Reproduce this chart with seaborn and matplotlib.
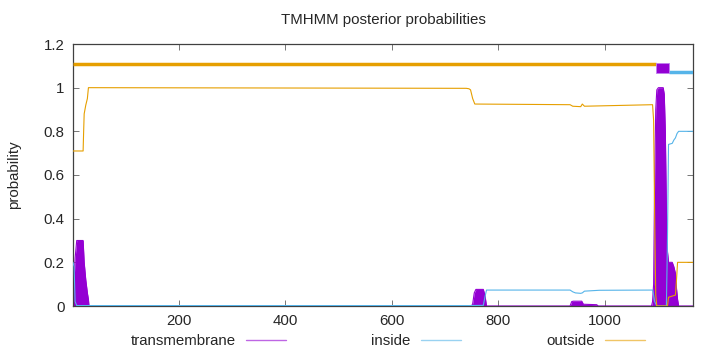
import numpy as np
import pandas as pd
import matplotlib
matplotlib.use("Agg")
import matplotlib.pyplot as plt
from matplotlib.lines import Line2D
from matplotlib.patches import Rectangle
import seaborn as sns

# ---- data ----
seq_len = 1166

tm_pos = [1, 3, 5, 8, 20, 22, 25, 28, 30, 31, 750, 752, 755, 758, 772, 775, 778,
          935, 938, 941, 957, 960, 985, 988, 1088, 1090, 1092, 1094, 1096, 1098,
          1101, 1110, 1112, 1114, 1116, 1118, 1120, 1127, 1130, 1133, 1135, 1137, 1139, 1166]
tm_prob = [0.11, 0.11, 0.22, 0.30, 0.30, 0.20, 0.12, 0.06, 0.03, 0.0, 0.0, 0.01, 0.06, 0.076, 0.076, 0.05, 0.0,
           0.0, 0.02, 0.022, 0.022, 0.008, 0.006, 0.0, 0.0, 0.02, 0.10, 0.60, 0.90, 0.99,
           1.0, 1.0, 0.97, 0.80, 0.45, 0.25, 0.20, 0.20, 0.18, 0.15, 0.08, 0.03, 0.0, 0.0]

inside_pos = [1, 3, 5, 8, 745, 772, 775, 778, 935, 940, 945, 955, 958, 962, 990, 1090,
              1092, 1094, 1098, 1116, 1118, 1120, 1127, 1130, 1133, 1136, 1139, 1166]
inside_prob = [0.20, 0.18, 0.02, 0.002, 0.002, 0.003, 0.04, 0.073, 0.073, 0.065, 0.06, 0.058, 0.06, 0.068, 0.072, 0.073,
               0.05, 0.02, 0.0, 0.0, 0.30, 0.74, 0.745, 0.76, 0.77, 0.79, 0.80, 0.80]

outside_pos = [1, 20, 21, 22, 25, 28, 30, 740, 745, 748, 752, 756, 935, 940, 955, 958, 962,
               1090, 1092, 1094, 1096, 1098, 1118, 1120, 1133, 1135, 1137, 1166]
outside_prob = [0.71, 0.71, 0.80, 0.88, 0.92, 0.95, 1.0, 0.997, 0.995, 0.99, 0.95, 0.925, 0.922, 0.915, 0.913, 0.925, 0.915,
                0.922, 0.85, 0.40, 0.05, 0.0, 0.0, 0.04, 0.05, 0.12, 0.20, 0.20]

# predicted topology segments (start, end)
seg_outside = [(1, 1097)]
seg_tm = [(1097, 1121)]
seg_inside = [(1121, 1166)]

yticks = [0, 0.2, 0.4, 0.6, 0.8, 1, 1.2]
ytick_labels = ["0", "0.2", "0.4", "0.6", "0.8", "1", "1.2"]
xticks = [200, 400, 600, 800, 1000]

C_TM = "#9400D3"
C_IN = "#56B4E9"
C_OUT = "#E69F00"

FS = 10.8

sns.set_style("ticks")
plt.rcParams["font.family"] = ["Liberation Sans", "DejaVu Sans"]
plt.rcParams["font.size"] = FS

fig = plt.figure(figsize=(7.2, 3.52), dpi=100)
ax = fig.add_axes([73 / 720, 1 - 306 / 352, 620 / 720, 262 / 352])

tm_df = pd.DataFrame({"pos": tm_pos, "prob": tm_prob})
in_df = pd.DataFrame({"pos": inside_pos, "prob": inside_prob})
out_df = pd.DataFrame({"pos": outside_pos, "prob": outside_prob})

ax.fill_between(tm_df["pos"], 0, tm_df["prob"], color=C_TM, lw=0, zorder=2)
sns.lineplot(data=tm_df, x="pos", y="prob", ax=ax, color=C_TM, lw=0.8, zorder=2, estimator=None)
sns.lineplot(data=in_df, x="pos", y="prob", ax=ax, color=C_IN, lw=0.8, zorder=3, estimator=None)
sns.lineplot(data=out_df, x="pos", y="prob", ax=ax, color=C_OUT, lw=0.8, zorder=3, estimator=None)

for s, e in seg_outside:
    ax.plot([s, e], [1.11, 1.11], color=C_OUT, lw=2.5, solid_capstyle="butt", zorder=4)
for s, e in seg_inside:
    ax.plot([s, e], [1.073, 1.073], color=C_IN, lw=2.5, solid_capstyle="butt", zorder=4)
for s, e in seg_tm:
    ax.add_patch(Rectangle((s, 1.067), e - s, 0.046, facecolor=C_TM, edgecolor="#c080f0",
                           lw=0.6, zorder=5))

ax.set_xlim(1, seq_len)
ax.set_ylim(0, 1.2)
ax.set_yticks(yticks)
ax.set_yticklabels(ytick_labels)
ax.set_xticks(xticks)
ax.set_xlabel("")
ax.set_ylabel("probability", labelpad=16)
ax.tick_params(direction="in", length=4, width=0.6, color="#606060", top=True, right=True,
               labelsize=FS, pad=6)
for sp in ax.spines.values():
    sp.set_color("#404040")
    sp.set_linewidth(0.9)
    sp.set_visible(True)

fig.text(383 / 720, 1 - 20 / 352, "TMHMM posterior probabilities", ha="center", va="center", fontsize=FS)

handles = [Line2D([], [], color=C_TM, lw=1, alpha=0.6),
           Line2D([], [], color=C_IN, lw=1, alpha=0.6),
           Line2D([], [], color=C_OUT, lw=1, alpha=0.6)]
fig.legend(handles, ["transmembrane", "inside", "outside"], loc="center",
           bbox_to_anchor=(388 / 720, 1 - 341 / 352), ncol=3, frameon=False,
           markerfirst=False, handlelength=2.68, handletextpad=0.67, columnspacing=5.7,
           fontsize=FS, borderaxespad=0, borderpad=0)

fig.savefig("out.png", dpi=100)
